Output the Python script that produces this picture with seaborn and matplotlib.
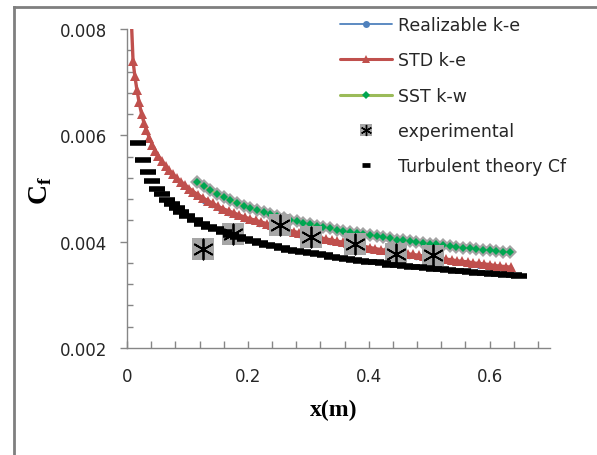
import matplotlib
matplotlib.use("Agg")
import matplotlib.pyplot as plt
from matplotlib.lines import Line2D
from matplotlib.ticker import MultipleLocator, FormatStrFormatter, FuncFormatter
import seaborn as sns

# --- data ---
realizable_x = [0.115, 0.128, 0.141, 0.154, 0.167, 0.180, 0.193, 0.206, 0.219, 0.232,
                0.245, 0.258, 0.271, 0.284, 0.297, 0.310, 0.323, 0.336, 0.349, 0.362,
                0.375, 0.388, 0.401, 0.414, 0.427, 0.440, 0.453, 0.466, 0.479, 0.492,
                0.505, 0.518, 0.531, 0.544, 0.557, 0.570, 0.583, 0.596, 0.609, 0.622,
                0.635]
realizable_y = [0.00486, 0.00477, 0.00469, 0.00461, 0.00454, 0.00448, 0.00443, 0.00438, 0.00434, 0.00430,
                0.00425, 0.00421, 0.00417, 0.00413, 0.00409, 0.00406, 0.00403, 0.00400, 0.00397, 0.00394,
                0.00391, 0.00388, 0.00385, 0.00383, 0.00380, 0.00378, 0.00375, 0.00373, 0.00371, 0.00369,
                0.00367, 0.00365, 0.00363, 0.00361, 0.00359, 0.00357, 0.00355, 0.00353, 0.00351, 0.00350,
                0.00348]

std_x = [0.006, 0.010, 0.013, 0.0165, 0.020, 0.024, 0.028, 0.032, 0.037, 0.042,
         0.047, 0.052, 0.058, 0.064, 0.070, 0.076, 0.082, 0.089, 0.096, 0.103,
         0.110, 0.118, 0.126, 0.134, 0.142, 0.150, 0.159, 0.168, 0.177, 0.186,
         0.195, 0.204, 0.213,
         0.222, 0.231, 0.240, 0.249, 0.258, 0.267, 0.276, 0.285, 0.294, 0.303,
         0.312, 0.321, 0.330, 0.339, 0.348, 0.357, 0.366, 0.375, 0.384, 0.393,
         0.402, 0.411, 0.420, 0.429, 0.438, 0.447, 0.456, 0.465, 0.474, 0.483,
         0.492, 0.501, 0.510, 0.519, 0.528, 0.537, 0.546, 0.555, 0.564, 0.573,
         0.582, 0.591, 0.600, 0.609, 0.618, 0.627, 0.636]
std_y = [0.00850, 0.00740, 0.00711, 0.00685, 0.00662, 0.00641, 0.00624, 0.00610, 0.00595, 0.00582,
         0.00571, 0.00561, 0.00551, 0.00542, 0.00534, 0.00527, 0.00520, 0.00513, 0.00507, 0.00500,
         0.00494, 0.00488, 0.00482, 0.00477, 0.00472, 0.00467, 0.00462, 0.00458, 0.00454, 0.00450,
         0.00446, 0.00443, 0.00440,
         0.00437, 0.00434, 0.00431, 0.00428, 0.00425, 0.00422, 0.00419, 0.00417, 0.00414, 0.00412,
         0.00409, 0.00407, 0.00405, 0.00403, 0.00401, 0.00399, 0.00397, 0.00395, 0.00393, 0.00391,
         0.00389, 0.00387, 0.00385, 0.00384, 0.00382, 0.00380, 0.00379, 0.00377, 0.00376, 0.00374,
         0.00373, 0.00371, 0.00370, 0.00368, 0.00367, 0.00366, 0.00364, 0.00363, 0.00362, 0.00360,
         0.00359, 0.00358, 0.00357, 0.00355, 0.00354, 0.00353, 0.00352]

sst_x = [0.116, 0.127, 0.138, 0.149, 0.160, 0.171, 0.182, 0.193, 0.204, 0.215,
         0.226, 0.237, 0.248, 0.259, 0.270, 0.281, 0.292, 0.303, 0.314, 0.325,
         0.336, 0.347, 0.358, 0.369, 0.380, 0.391, 0.402, 0.413, 0.424, 0.435,
         0.446, 0.457, 0.468, 0.479, 0.490, 0.501, 0.512, 0.523, 0.534, 0.545,
         0.556, 0.567, 0.578, 0.589, 0.600, 0.611, 0.622, 0.633]
sst_y = [0.00512, 0.00504, 0.00497, 0.00490, 0.00484, 0.00478, 0.00473, 0.00468, 0.00464, 0.00459,
         0.00455, 0.00452, 0.00448, 0.00445, 0.00441, 0.00438, 0.00435, 0.00433, 0.00430, 0.00427,
         0.00425, 0.00422, 0.00420, 0.00418, 0.00416, 0.00414, 0.00412, 0.00410, 0.00408, 0.00406,
         0.00404, 0.00403, 0.00401, 0.00399, 0.00398, 0.00396, 0.00395, 0.00393, 0.00392, 0.00390,
         0.00389, 0.00388, 0.00386, 0.00385, 0.00384, 0.00383, 0.00381, 0.00380]

exp_x = [0.125, 0.176, 0.253, 0.304, 0.378, 0.445, 0.507]
exp_y = [0.00387, 0.00415, 0.00431, 0.00408, 0.00396, 0.00377, 0.00374]

theory_x = [0.018, 0.026, 0.034, 0.042, 0.050, 0.058, 0.066, 0.074, 0.082, 0.090,
            0.100, 0.112, 0.124, 0.136, 0.148, 0.160, 0.172, 0.184, 0.196, 0.208,
            0.220, 0.232, 0.244, 0.256, 0.268, 0.280, 0.292, 0.304, 0.316, 0.328,
            0.340, 0.352, 0.364, 0.376, 0.388, 0.400, 0.412, 0.424, 0.436, 0.448,
            0.460, 0.472, 0.484, 0.496, 0.508, 0.520, 0.532, 0.544, 0.556, 0.568,
            0.580, 0.592, 0.604, 0.616, 0.628, 0.640, 0.648]
theory_y = [0.00586, 0.00553, 0.00531, 0.00514, 0.00500, 0.00489, 0.00479, 0.00471, 0.00463, 0.00456,
            0.00449, 0.00441, 0.00434, 0.00428, 0.00423, 0.00418, 0.00413, 0.00409, 0.00405, 0.00401,
            0.00397, 0.00394, 0.00391, 0.00388, 0.00385, 0.00383, 0.00380, 0.00378, 0.00376, 0.00374,
            0.00372, 0.00370, 0.00368, 0.00366, 0.00364, 0.00362, 0.00361, 0.00359, 0.00357, 0.00356,
            0.00354, 0.00353, 0.00352, 0.00350, 0.00349, 0.00348, 0.00347, 0.00345, 0.00344, 0.00343,
            0.00342, 0.00341, 0.00340, 0.00339, 0.00338, 0.00337, 0.00336]

series_labels = ["Realizable k-e", "STD k-e", "SST k-w", "experimental", "Turbulent theory Cf"]

BLUE = "#4F81BD"
RED = "#C0504D"
LIGHT_GREEN = "#9BBB59"
DIAMOND_GREEN = "#00A651"
AXIS_GRAY = "#868686"
BORDER_GRAY = "#7f7f7f"
TEXT_COLOR = "#262626"

sns.set_style("ticks")
plt.rcParams["font.family"] = ["DejaVu Sans"]
plt.rcParams["mathtext.fontset"] = "custom"
plt.rcParams["mathtext.rm"] = "Liberation Serif"
plt.rcParams["mathtext.bf"] = "Liberation Serif:bold"

fig = plt.figure(figsize=(5.97, 4.56), dpi=100)
ax = fig.add_axes([127 / 597, 107 / 456, 423 / 597, 319 / 456])

sns.lineplot(x=realizable_x, y=realizable_y, ax=ax, color=BLUE, linewidth=1.3,
             marker="o", markersize=4, markeredgewidth=0, zorder=2)
sns.lineplot(x=std_x, y=std_y, ax=ax, color=RED, linewidth=2.4,
             marker="^", markersize=7.5, markeredgewidth=0, zorder=3)
# grey shadow behind the SST diamonds
sns.lineplot(x=sst_x, y=sst_y, ax=ax, color="#a3a3a3", linewidth=5,
             marker="D", markersize=7, markeredgewidth=0, zorder=4)
sns.lineplot(x=sst_x, y=sst_y, ax=ax, color=LIGHT_GREEN, linewidth=1.0,
             marker="D", markersize=4.5, markeredgewidth=0,
             markerfacecolor=DIAMOND_GREEN, zorder=5)

sns.scatterplot(x=exp_x, y=exp_y, ax=ax, marker="s", s=250, color="#a6a6a6",
                edgecolor="none", linewidth=0, zorder=6)
sns.scatterplot(x=exp_x, y=exp_y, ax=ax, marker=(6, 2, 0), s=210, color="black",
                edgecolor="black", linewidth=1.3, zorder=7)
sns.scatterplot(x=theory_x, y=theory_y, ax=ax, marker="_", s=120, color="black",
                edgecolor="black", linewidth=4.0, zorder=8)

ax.set_xlim(0, 0.7)
ax.set_ylim(0.002, 0.008)
ax.xaxis.set_major_locator(MultipleLocator(0.2))
ax.xaxis.set_minor_locator(MultipleLocator(0.04))
ax.xaxis.set_major_formatter(FuncFormatter(lambda v, _: f"{v:g}"))
ax.yaxis.set_major_locator(MultipleLocator(0.002))
ax.yaxis.set_minor_locator(MultipleLocator(0.0004))
ax.yaxis.set_major_formatter(FormatStrFormatter("%.3f"))

for side in ["top", "right"]:
    ax.spines[side].set_visible(False)
for side in ["left", "bottom"]:
    ax.spines[side].set_color(AXIS_GRAY)
    ax.spines[side].set_linewidth(1.0)

ax.tick_params(axis="x", which="both", direction="in", length=5, width=1,
               color=AXIS_GRAY, labelsize=12, labelcolor=TEXT_COLOR, pad=14)
ax.tick_params(axis="y", which="major", direction="out", length=5, width=1,
               color=AXIS_GRAY, labelsize=12, labelcolor=TEXT_COLOR, pad=9)
ax.tick_params(axis="y", which="minor", direction="in", length=4, width=1,
               color=AXIS_GRAY)
ax.set_xlabel("")
ax.set_ylabel("")

fig.text(40 / 597, 1 - 190 / 456, r"$\mathbf{C}_\mathbf{f}$", rotation=90,
         ha="center", va="center", fontsize=20, color="black")
fig.text(334 / 597, 1 - 410 / 456, "x(m)", family="Liberation Serif",
         fontweight="bold", ha="center", va="center", fontsize=17, color="black")

legend_handles = [
    Line2D([], [], color=BLUE, linewidth=1.3, marker="o", markersize=5,
           markeredgewidth=0),
    Line2D([], [], color=RED, linewidth=2.2, marker="^", markersize=6,
           markeredgewidth=0),
    Line2D([], [], color=LIGHT_GREEN, linewidth=2.2, marker="D", markersize=4.5,
           markeredgewidth=0, markerfacecolor=DIAMOND_GREEN),
    (Line2D([], [], linestyle="none", marker="s", markersize=9,
            markerfacecolor="#a6a6a6", markeredgewidth=0),
     Line2D([], [], linestyle="none", marker=(6, 2, 0), markersize=8,
            color="black", markeredgewidth=1.0)),
    Line2D([], [], linestyle="none", marker="_", markersize=6,
           color="black", markeredgewidth=3.4),
]
fig.legend(legend_handles, series_labels, loc="upper left",
           bbox_to_anchor=(340 / 597, 1 - 17 / 456), frameon=False,
           fontsize=12.5, labelcolor=TEXT_COLOR, borderpad=0, borderaxespad=0,
           handlelength=3.0, handletextpad=0.35, labelspacing=1.0)

# outer chart border, cut by the image edge on the right and bottom
border_left = 13.5 / 597
border_top = 1 - 8 / 456
fig.add_artist(Line2D([border_left, border_left], [0, border_top],
                      transform=fig.transFigure, color=BORDER_GRAY,
                      linewidth=2.0, solid_capstyle="projecting", zorder=10))
fig.add_artist(Line2D([border_left, 1], [border_top, border_top],
                      transform=fig.transFigure, color=BORDER_GRAY,
                      linewidth=2.0, solid_capstyle="projecting", zorder=10))

fig.savefig("out.png", dpi=100)
plt.close(fig)
